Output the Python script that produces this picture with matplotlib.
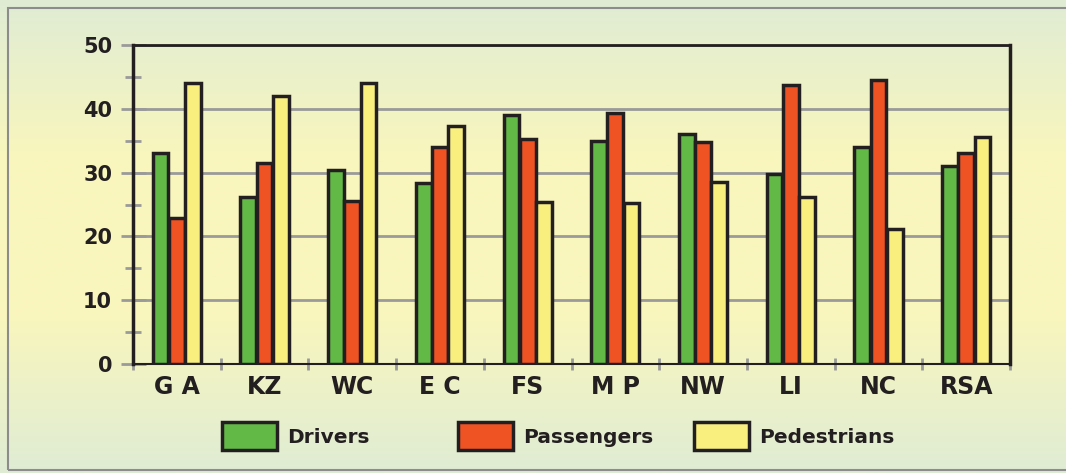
import numpy as np
import matplotlib.pyplot as plt
from matplotlib.colors import LinearSegmentedColormap
from matplotlib.patches import Rectangle

categories = ["G A", "KZ", "WC", "E C", "FS", "M P", "NW", "LI", "NC", "RSA"]
drivers = [33, 26.2, 30.4, 28.4, 39, 35, 36.1, 29.8, 34, 31.1]
passengers = [22.9, 31.5, 25.5, 34, 35.2, 39.4, 34.8, 43.8, 44.5, 33.1]
pedestrians = [44, 42, 44, 37.3, 25.4, 25.3, 28.6, 26.2, 21.2, 35.6]
series_names = ["Drivers", "Passengers", "Pedestrians"]
colors = ["#62b946", "#ef5223", "#f9ef7f"]

plt.rcParams['font.family'] = ['DejaVu Sans']
plt.rcParams['font.weight'] = 'bold'

fig = plt.figure(figsize=(10.66, 4.73), dpi=100)

# background gradient
bg = fig.add_axes([0, 0, 1, 1], zorder=-10)
grad = LinearSegmentedColormap.from_list("bg", ["#dfecd4", "#f9f6bd", "#f9f6bd", "#dfecd4"])
bg.imshow(np.linspace(0, 1, 256).reshape(-1, 1), aspect='auto', cmap=grad,
          extent=[0, 1, 0, 1], origin='upper')
bg.set_xlim(0, 1)
bg.set_ylim(0, 1)
bg.axis('off')
bg.add_patch(Rectangle((8 / 1066, 3 / 473), 1.2, 462 / 473, fill=False,
                       edgecolor='#8c8c8c', linewidth=1.5))

ax = fig.add_axes([133 / 1066, 1 - 364 / 473, 877 / 1066, 319 / 473])
ax.patch.set_alpha(0)

x = np.arange(len(categories))
w = 0.185
handles = []
for i, (vals, name, c) in enumerate(zip([drivers, passengers, pedestrians], series_names, colors)):
    b = ax.bar(x + (i - 1) * w, vals, w * 0.97, color=c, edgecolor='#231f20',
               linewidth=2.5, label=name, zorder=3)
    handles.append(b)

ax.set_xlim(-0.5, len(categories) - 0.5)
ax.set_ylim(0, 50)
ax.set_yticks(range(0, 51, 10))
ax.set_yticks(range(5, 50, 10), minor=True)
ax.yaxis.grid(True, color='#9a9a9a', linewidth=2, zorder=1)
ax.tick_params(axis='y', which='major', direction='inout', length=18, width=2,
               color='#9a9a9a', labelsize=15, pad=6)
ax.tick_params(axis='y', which='minor', direction='inout', length=11, width=2,
               color='#9a9a9a')
ax.set_xticks(np.arange(-0.5, len(categories), 1))
ax.set_xticklabels([])
ax.set_xticks(x, minor=True)
ax.set_xticklabels(categories, minor=True)
ax.tick_params(axis='x', which='major', direction='inout', length=9, width=2,
               color='#9a9a9a')
ax.tick_params(axis='x', which='minor', length=0, labelsize=17, pad=8)
for lab in ax.get_yticklabels() + ax.get_xticklabels(minor=True):
    lab.set_fontweight('bold')
    lab.set_color('#231f20')

for side, lw in [('left', 2.5), ('right', 2.5), ('top', 2), ('bottom', 1.5)]:
    ax.spines[side].set_color('#231f20')
    ax.spines[side].set_linewidth(lw)

# legend: one entry per fixed column slot
for h, name, xpos in zip(handles, series_names, [222, 458, 694]):
    leg = fig.legend([h], [name], loc='center left',
                     bbox_to_anchor=(xpos / 1066, 1 - 436 / 473),
                     frameon=False, borderpad=0, borderaxespad=0,
                     handlelength=2.75, handleheight=1.75, handletextpad=0.5,
                     prop={'weight': 'bold', 'size': 14.5})
    for t in leg.get_texts():
        t.set_color('#231f20')

fig.savefig("out.png", dpi=100)
